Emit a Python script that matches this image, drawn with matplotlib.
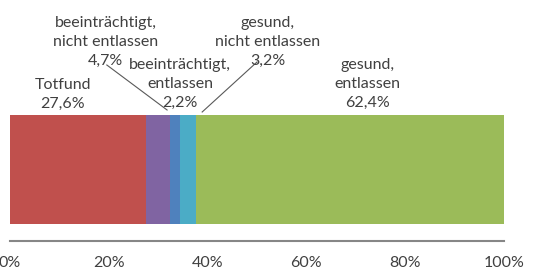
import matplotlib.pyplot as plt

# data
categories = ['Totfund', 'beeinträchtigt,\nnicht entlassen', 'beeinträchtigt,\nentlassen',
              'gesund,\nnicht entlassen', 'gesund,\nentlassen']
values = [27.6, 4.7, 2.2, 3.2, 62.4]
ticks = [0, 20, 40, 60, 80, 100]

colors = ['#C0504D', '#8064A2', '#4F81BD', '#4BACC6', '#9BBB59']
text_col = '#404040'

plt.rcParams['font.family'] = ['Lato', 'DejaVu Sans']
plt.rcParams['font.size'] = 11.5

fig = plt.figure(figsize=(5.57, 2.70), dpi=100)
# axes spans pixel x 10..504, y from top 0..241
ax = fig.add_axes([10/557, 29/270, 494/557, 241/270])
ax.set_xlim(0, 100)
ax.set_ylim(0, 241)

left = 0
for v, c in zip(values, colors):
    ax.barh(71.5, v, height=109, left=left, color=c, linewidth=0)
    left += v

def lab(i):
    return categories[i] + '\n' + ('%.1f%%' % values[i]).replace('.', ',')

# label positions (x in %, y in px from axis line)
ls = 1.45
ax.text(10.7, 147, lab(0), ha='center', va='center', color=text_col, linespacing=ls)
ax.text(19.4, 199, lab(1), ha='center', va='center', color=text_col, linespacing=ls)
ax.text(34.4, 157, lab(2), ha='center', va='center', color=text_col, linespacing=ls)
ax.text(52.2, 199, lab(3), ha='center', va='center', color=text_col, linespacing=ls)
ax.text(72.3, 157, lab(4), ha='center', va='center', color=text_col, linespacing=ls)

# leader lines
ax.plot([19.6, 31.8], [176, 131], color='#595959', lw=0.8)
ax.plot([50.0, 38.9], [179, 129], color='#595959', lw=0.8)

for s in ['top', 'left', 'right']:
    ax.spines[s].set_visible(False)
ax.spines['bottom'].set_color('#868686')
ax.spines['bottom'].set_linewidth(1.5)
ax.set_yticks([])
ax.set_xticks(ticks)
ax.set_xticklabels(['%d%%' % t for t in ticks], color=text_col)
ax.tick_params(axis='x', length=0, pad=11)

fig.savefig('out.png', dpi=100)
